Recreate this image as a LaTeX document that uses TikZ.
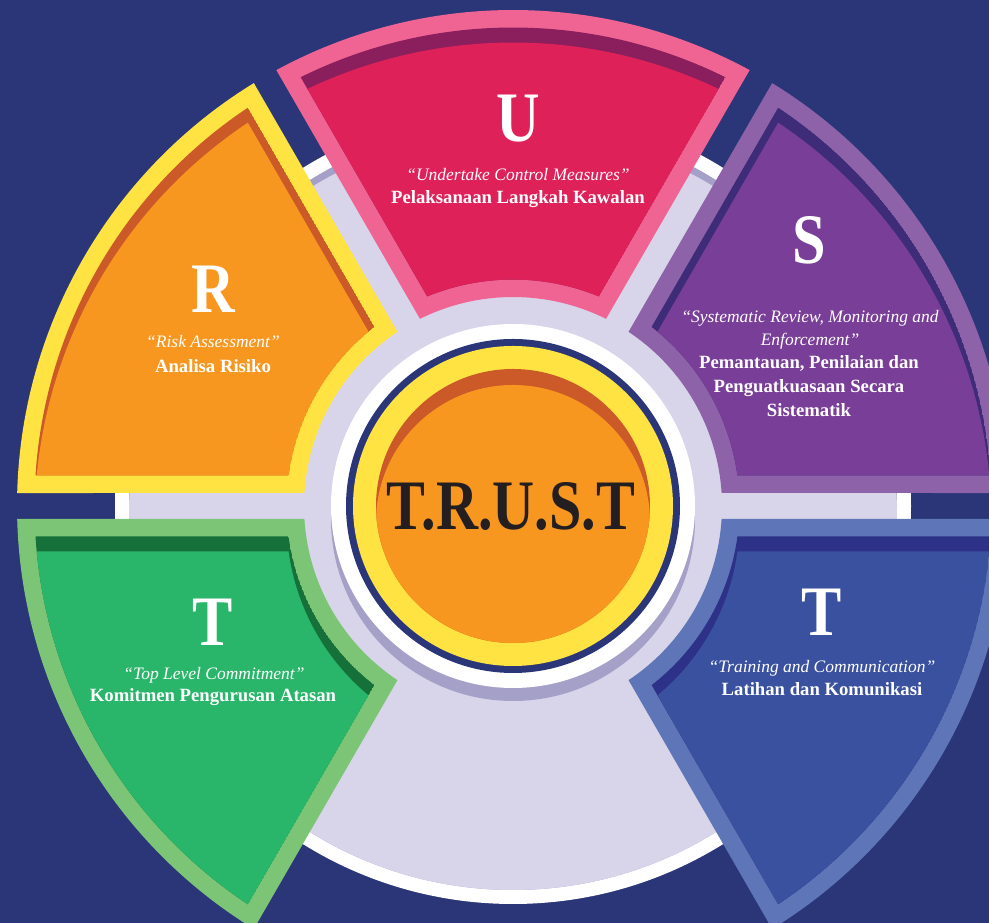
\documentclass[tikz,border=0pt]{standalone}
\usepackage{fontspec}
\setmainfont{Liberation Serif}
\definecolor{bg}{HTML}{2B3678}
\definecolor{lav}{HTML}{D8D4EA}
\definecolor{greyL}{HTML}{A4A0C8}
\definecolor{yelB}{HTML}{FEE343}
\definecolor{oraF}{HTML}{F8971F}
\definecolor{oraD}{HTML}{CC5A28}
\definecolor{pinkB}{HTML}{F06494}
\definecolor{pinkF}{HTML}{DF2159}
\definecolor{pinkD}{HTML}{8B1E5C}
\definecolor{purB}{HTML}{8D62A9}
\definecolor{purF}{HTML}{793E97}
\definecolor{purD}{HTML}{3E2C79}
\definecolor{bluB}{HTML}{5E76B8}
\definecolor{bluF}{HTML}{3A519F}
\definecolor{bluD}{HTML}{2E3188}
\definecolor{grnB}{HTML}{7CC576}
\definecolor{grnF}{HTML}{29B56A}
\definecolor{grnD}{HTML}{157139}
\definecolor{ink}{HTML}{231F20}
\newcommand\segcalc[4]{%
  \pgfmathsetmacro\sgA{#1+asin(#2/#3)}%
  \pgfmathsetmacro\sgB{#1+asin(#2/#4)}%
  \pgfmathsetmacro\sgC{#1+60-asin(#2/#4)}%
  \pgfmathsetmacro\sgD{#1+60-asin(#2/#3)}%
  \def\sgRi{#3}\def\sgRo{#4}}
\newcommand\sgpath{(\sgA:\sgRi pt) -- (\sgB:\sgRo pt) arc[start angle=\sgB, end angle=\sgC, radius=\sgRo pt] -- (\sgD:\sgRi pt) arc[start angle=\sgD, end angle=\sgA, radius=\sgRi pt] -- cycle}
\newcommand\seg[4]{%
  \segcalc{#1}{13}{209}{496}\fill[#2] \sgpath;
  \segcalc{#1}{30.5}{226.5}{478.5}%
  \begin{scope}
    \clip \sgpath;
    \fill[#4] \sgpath;
    \fill[#3, yshift=-15pt] \sgpath;
  \end{scope}}
\begin{document}
\begin{tikzpicture}[x=1pt,y=1pt,
  big/.style={text=white, font=\fontsize{71}{71}\selectfont\bfseries, anchor=base, inner sep=0pt},
  it/.style={text=white, font=\fontsize{17.5}{20}\selectfont\itshape, anchor=base, inner sep=0pt},
  bd/.style={text=white, font=\fontsize{18.7}{22}\selectfont\bfseries, anchor=base, inner sep=0pt}]
\useasboundingbox (0,0) rectangle (989,923);
\fill[bg] (0,0) rectangle (989,923);
\begin{scope}[shift={(513,417)}]
  % big disc
  \fill[white] (0,0) circle[radius=398pt];
  \fill[greyL] (0,0) circle[radius=384pt];
  \begin{scope}
    \clip (0,0) circle[radius=384pt];
    \fill[lav] (0,-8) circle[radius=384pt];
  \end{scope}
  % centre emblem
  \fill[greyL] (0,-13) circle[radius=182pt];
  \fill[white] (0,0) circle[radius=182pt];
  \fill[bg] (0,0) circle[radius=167pt];
  \fill[yelB] (0,0) circle[radius=160pt];
  \fill[oraD] (0,0) circle[radius=137pt];
  \begin{scope}
    \clip (0,0) circle[radius=137pt];
    \fill[oraF] (0,-16) circle[radius=137pt];
  \end{scope}
  % segments
  \seg{120}{yelB}{oraF}{oraD}
  \seg{60}{pinkB}{pinkF}{pinkD}
  \seg{0}{purB}{purF}{purD}
  \seg{300}{bluB}{bluF}{bluD}
  \seg{180}{grnB}{grnF}{grnD}
\end{scope}
% centre text
\node (trust) [anchor=base, inner sep=0pt, text=ink, font=\fontsize{71}{71}\selectfont\bfseries] at (511,393) {\scalebox{0.82}[1]{T.R.U.S.T}};
% R
\node (rL) [big] at (213,610) {\scalebox{0.85}[1]{R}};
\node (rI) [it] at (213,575) {“Risk Assessment”};
\node (rB) [bd] at (213,550) {Analisa Risiko};
% U
\node (uL) [big] at (518,781) {\scalebox{0.85}[1]{U}};
\node (uI) [it] at (518,742) {“Undertake Control Measures”};
\node (uB) [bd] at (518,719) {Pelaksanaan Langkah Kawalan};
% S
\node (sL) [big] at (809,659) {\scalebox{0.85}[1]{S}};
\node (sI1) [it] at (810,600) {“Systematic Review, Monitoring and};
\node (sI2) [it] at (810,577) {Enforcement”};
\node (sB1) [bd] at (809,554) {Pemantauan, Penilaian dan};
\node (sB2) [bd] at (809,530) {Penguatkuasaan Secara};
\node (sB3) [bd] at (809,506) {Sistematik};
% T right
\node (tL) [big] at (822,287) {\scalebox{0.85}[1]{T}};
\node (tI) [it] at (822,250) {“Training and Communication”};
\node (tB) [bd] at (822,227) {Latihan dan Komunikasi};
% T left
\node (t2L) [big] at (213,277) {\scalebox{0.85}[1]{T}};
\node (t2I) [it] at (214,243) {“Top Level Commitment”};
\node (t2B) [bd] at (213,221) {Komitmen Pengurusan Atasan};
\end{tikzpicture}
\end{document}
